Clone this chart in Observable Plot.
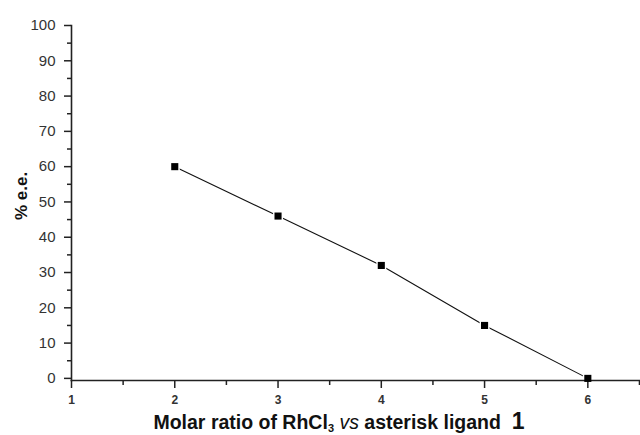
<!DOCTYPE html>
<html><head><meta charset="utf-8">
<script src="https://cdn.jsdelivr.net/npm/d3@7"></script>
<script src="https://cdn.jsdelivr.net/npm/@observablehq/plot@0.6"></script>
<style>
body{margin:0;background:#fff;}
svg{font-family:Arial,"Liberation Sans",sans-serif;}
</style></head>
<body><div id="chart"></div>
<script>
const ratio = [2, 3, 4, 5, 6];
const ee = [60, 46, 32, 15, 0];
const yTicks = [0, 10, 20, 30, 40, 50, 60, 70, 80, 90, 100];
const yMinor = [5, 15, 25, 35, 45, 55, 65, 75, 85, 95];
const xTicks = [1, 2, 3, 4, 5, 6];
const xMinor = [1.5, 2.5, 3.5, 4.5, 5.5, 6.5];

const data = ratio.map((r, i) => ({r, e: ee[i]}));

const chart = Plot.plot({
  width: 640, height: 435,
  marginLeft: 71, marginRight: 0, marginTop: 25, marginBottom: 55,
  style: {fontFamily: 'Arial, "Liberation Sans", sans-serif', background: "#fff"},
  x: {domain: [1, 6.51], label: null},
  y: {domain: [-0.6, 100], label: null},
  marks: [
    Plot.line(data, {x: "r", y: "e", stroke: "#111", strokeWidth: 1.1}),
    Plot.dot(data, {x: "r", y: "e", symbol: "square", r: 5.6, fill: "#fff", stroke: "none"}),
    Plot.axisY({ticks: yTicks, tickSize: 7, tickPadding: 9, fontSize: 15, stroke: "#222", strokeWidth: 1.5, fill: "#333"}),
    Plot.axisY({ticks: yMinor, tickSize: 4, tickFormat: () => "", stroke: "#222", strokeWidth: 1.5}),
    Plot.axisX({ticks: xTicks, tickFormat: d3.format("d"), tickSize: 8, tickPadding: 7, fontSize: 12, fontWeight: "bold", stroke: "#222", strokeWidth: 1.5, fill: "#333"}),
    Plot.axisX({ticks: xMinor, tickSize: 5, tickFormat: () => "", stroke: "#222", strokeWidth: 1.5}),
    Plot.frame({anchor: "left", stroke: "#222", strokeWidth: 1.6}),
    Plot.frame({anchor: "bottom", stroke: "#222", strokeWidth: 1.6}),
    Plot.dot(data, {x: "r", y: "e", symbol: "square", r: 4, fill: "#000", stroke: "none"})
  ]
});

const svg = d3.select(chart);
const xt = svg.append("text")
  .attr("x", 339).attr("y", 429)
  .attr("text-anchor", "middle")
  .attr("font-size", 19.5).attr("font-weight", "bold").attr("fill", "#111");
xt.append("tspan").text("Molar ratio of RhCl");
xt.append("tspan").attr("font-size", 11).attr("dy", 3).text("3");
xt.append("tspan").attr("dy", -3).text(" ");
xt.append("tspan").attr("font-style", "italic").attr("font-weight", "normal").text("vs");
xt.append("tspan").text(" asterisk ligand  ");
xt.append("tspan").attr("font-size", 23).text("1");

svg.append("text")
  .attr("transform", "translate(27,196) rotate(-90)")
  .attr("text-anchor", "middle")
  .attr("font-size", 17).attr("font-weight", "bold").attr("fill", "#111")
  .text("% e.e.");

document.getElementById("chart").appendChild(chart);
</script>
</body></html>
